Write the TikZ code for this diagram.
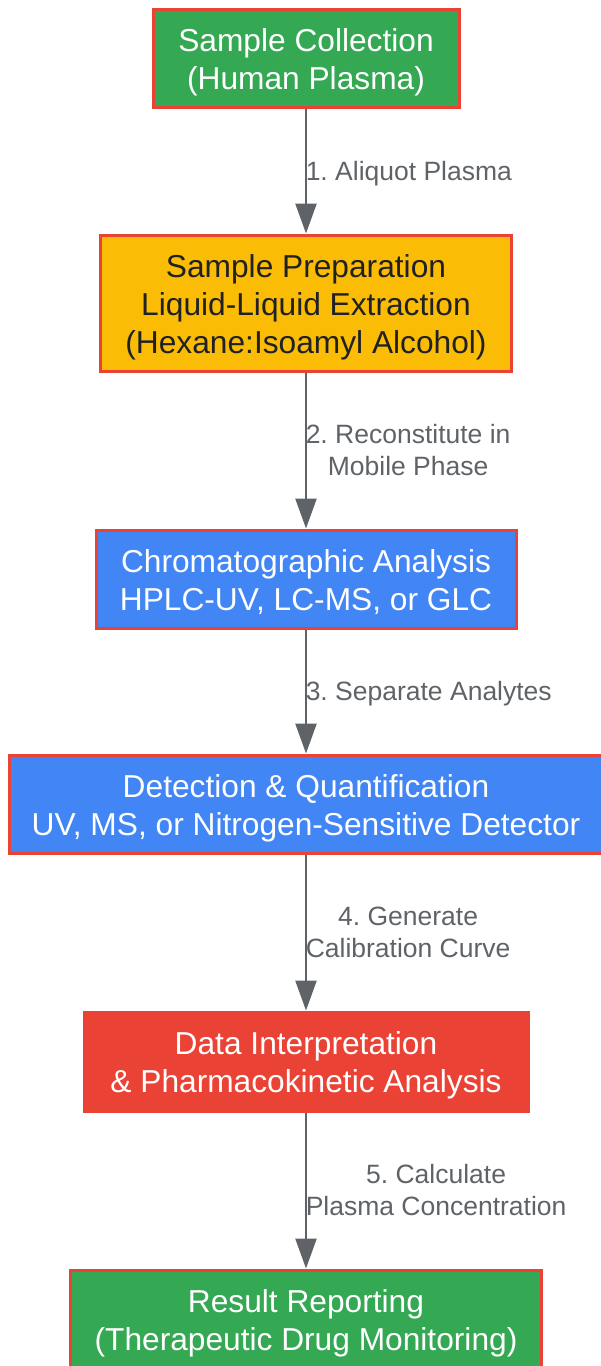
\documentclass[tikz,border=0pt]{standalone}
\usepackage{fontspec}
\setmainfont{Liberation Sans}
\usepackage{tikz}
\usetikzlibrary{arrows.meta}
\definecolor{stepgreen}{HTML}{34A853}
\definecolor{stepyellow}{HTML}{FBBC05}
\definecolor{stepblue}{HTML}{4285F4}
\definecolor{stepred}{HTML}{EA4335}
\definecolor{linegray}{HTML}{5F6368}
\definecolor{darktext}{HTML}{202124}

\begin{document}
\frenchspacing
\begin{tikzpicture}[x=1pt, y=-1pt,
  box/.style={draw=stepred, line width=3pt, align=center, inner sep=0pt, text=white,
    font=\fontsize{31.7}{38}\selectfont, text height=69pt, text depth=6.7pt},
  threelines/.style={text height=107pt},
  flow/.style={draw=linegray, line width=2.5pt, -{Triangle[length=30pt, width=21pt]}},
  lbl/.style={midway, anchor=west, inner sep=0pt, xshift=-1.5pt, align=center, text=linegray,
    font=\fontsize{26.5}{32}\selectfont, text height=24pt, text depth=5.6pt},
  twolines/.style={text height=56pt}]
\useasboundingbox (0, 0) rectangle (600, 1366);
\node[box, fill=stepgreen, minimum width=306, minimum height=98] (collect) at (306, 58) {Sample Collection\\(Human Plasma)};
\node[box, threelines, fill=stepyellow, text=darktext, minimum width=411, minimum height=136] (prep) at (306, 303) {Sample Preparation\\Liquid-Liquid Extraction\\(Hexane:Isoamyl Alcohol)};
\node[box, fill=stepblue, minimum width=420, minimum height=98] (chrom) at (306, 579) {Chromatographic Analysis\\HPLC-UV, LC-MS, or GLC};
\node[box, fill=stepblue, minimum width=594, minimum height=98] (detect) at (306, 804) {Detection \& Quantification\\UV, MS, or Nitrogen-Sensitive Detector};
\node[box, fill=stepred, minimum width=444, minimum height=99] (interp) at (306, 1061.5) {Data Interpretation\\\& Pharmacokinetic Analysis};
\node[box, fill=stepgreen, minimum width=471, minimum height=98] (report) at (306, 1319) {Result Reporting\\(Therapeutic Drug Monitoring)};
\draw[flow] (collect) to node[lbl] {1. Aliquot Plasma} (prep);
\draw[flow] (prep) to node[lbl, twolines] {2. Reconstitute in\\Mobile Phase} (chrom);
\draw[flow] (chrom) to node[lbl] {3. Separate Analytes} (detect);
\draw[flow] (detect) to node[lbl, twolines] {4. Generate\\Calibration Curve} (interp);
\draw[flow] (interp) to node[lbl, twolines] {5. Calculate\\Plasma Concentration} (report);
\end{tikzpicture}
\end{document}
